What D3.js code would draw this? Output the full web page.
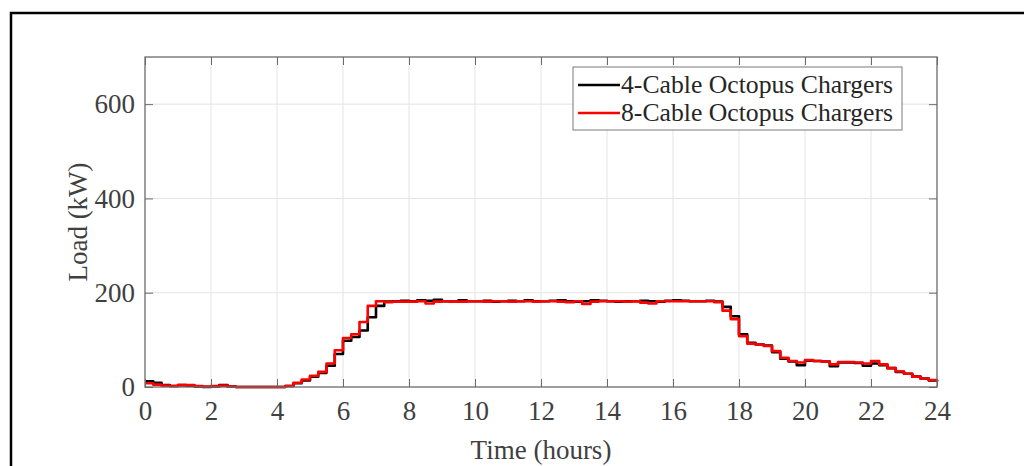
<!DOCTYPE html>
<html>
<head>
<meta charset="utf-8">
<script src="https://cdn.jsdelivr.net/npm/d3@7"></script>
<style>
  body { margin: 0; background: #fff; }
  svg { display: block; }
  .tick text { font-family: "Liberation Serif", "Times New Roman", serif; fill: #404040; }
</style>
</head>
<body>
<svg id="chart" width="1024" height="466"></svg>
<script>
// time axis (hours), sampled every quarter hour
const hours = d3.range(0, 24.001, 0.25);

// 4-cable octopus chargers, load in kW
const load4Cable = [
  12, 9, 4, 2, 4, 3, 1, 0, 1, 4, 1, 0,
  0, 0, 0, 0, 0, 2, 8, 14, 22, 30, 45, 70,
  98, 106, 120, 148, 172, 181, 182, 183, 182, 184, 183, 185,
  182, 181, 184, 182, 182, 183, 181, 182, 183, 182, 184, 182,
  182, 183, 184, 182, 181, 182, 184, 183, 182, 181, 182, 182,
  183, 182, 181, 183, 184, 183, 182, 182, 183, 181, 170, 150,
  112, 94, 90, 88, 74, 60, 54, 46, 56, 55, 54, 44,
  52, 52, 51, 45, 50, 46, 40, 32, 28, 22, 18, 14,
  12
];

// 8-cable octopus chargers, load in kW
const load8Cable = [
  8, 5, 3, 2, 4, 4, 2, 1, 2, 3, 1, 0,
  0, 0, 0, 0, 0, 2, 9, 16, 24, 32, 50, 78,
  104, 112, 138, 172, 182, 180, 181, 181, 181, 182, 177, 181,
  182, 181, 181, 182, 182, 181, 182, 182, 181, 182, 182, 181,
  182, 182, 181, 180, 182, 176, 181, 182, 182, 182, 181, 182,
  179, 177, 182, 182, 182, 182, 182, 182, 182, 180, 162, 144,
  108, 92, 90, 87, 76, 62, 55, 52, 57, 55, 54, 48,
  53, 53, 52, 50, 55, 48, 40, 33, 28, 22, 18, 15,
  12
];

const xTicks = d3.range(0, 25, 2);
const yTicks = [0, 200, 400, 600];
const seriesNames = ["4-Cable Octopus Chargers", "8-Cable Octopus Chargers"];
const seriesColors = ["#000000", "#ff0000"];

const plot = { left: 145, top: 57, right: 937, bottom: 387 };
const axisColor = "#6b6b6b";
const serif = "'Liberation Serif', 'Times New Roman', serif";

const svg = d3.select("#chart");

// outer figure frame (runs off the right/bottom edge)
svg.append("rect")
  .attr("x", 11).attr("y", 13)
  .attr("width", 1200).attr("height", 700)
  .attr("fill", "none").attr("stroke", "#000").attr("stroke-width", 2.5);

const x = d3.scaleLinear().domain([0, 24]).range([plot.left, plot.right]);
const y = d3.scaleLinear().domain([0, 700]).range([plot.bottom, plot.top]);

// grid
const grid = svg.append("g");
grid.selectAll(".gx").data(xTicks.slice(1, -1)).join("line")
  .attr("x1", (d) => x(d)).attr("x2", (d) => x(d))
  .attr("y1", plot.top).attr("y2", plot.bottom)
  .attr("stroke", "#e4e4e4").attr("stroke-width", 1);
grid.selectAll(".gy").data(yTicks.slice(1)).join("line")
  .attr("x1", plot.left).attr("x2", plot.right)
  .attr("y1", (d) => y(d)).attr("y2", (d) => y(d))
  .attr("stroke", "#e4e4e4").attr("stroke-width", 1);

// data lines
const line = (vals) => d3.line()
  .curve(d3.curveStepAfter)
  .x((d, i) => x(hours[i]))
  .y((d) => y(d))(vals);

[load4Cable, load8Cable].forEach((vals, i) => {
  svg.append("path")
    .attr("d", line(vals))
    .attr("fill", "none")
    .attr("stroke", seriesColors[i])
    .attr("stroke-width", 2.6)
    .attr("stroke-linejoin", "round");
});

// axes (ticks point inward, box on)
const styleAxis = (g, size) => {
  g.select(".domain").remove();
  g.selectAll(".tick line").attr("stroke", axisColor).attr("stroke-width", 1);
  g.selectAll(".tick text").attr("font-size", size);
};

svg.append("g")
  .attr("transform", `translate(0,${plot.bottom})`)
  .call(d3.axisBottom(x).tickValues(xTicks).tickSize(-8).tickPadding(14).tickFormat(d3.format("d")))
  .call((g) => styleAxis(g, 27));

svg.append("g")
  .attr("transform", `translate(0,${plot.top})`)
  .call(d3.axisTop(x).tickValues(xTicks).tickSize(-8).tickFormat(""))
  .call((g) => styleAxis(g, 27));

svg.append("g")
  .attr("transform", `translate(${plot.left},0)`)
  .call(d3.axisLeft(y).tickValues(yTicks).tickSize(-8).tickPadding(10).tickFormat(d3.format("d")))
  .call((g) => styleAxis(g, 27));

svg.append("g")
  .attr("transform", `translate(${plot.right},0)`)
  .call(d3.axisRight(y).tickValues(yTicks).tickSize(-8).tickFormat(""))
  .call((g) => styleAxis(g, 27));

svg.append("rect")
  .attr("x", plot.left).attr("y", plot.top)
  .attr("width", plot.right - plot.left).attr("height", plot.bottom - plot.top)
  .attr("fill", "none").attr("stroke", axisColor).attr("stroke-width", 1.3);

// axis titles
svg.append("text")
  .attr("x", (plot.left + plot.right) / 2).attr("y", 459)
  .attr("text-anchor", "middle")
  .attr("font-family", serif).attr("font-size", 27).attr("fill", "#404040")
  .text("Time (hours)");

svg.append("text")
  .attr("transform", `translate(87,${(plot.top + plot.bottom) / 2}) rotate(-90)`)
  .attr("text-anchor", "middle")
  .attr("font-family", serif).attr("font-size", 27).attr("fill", "#404040")
  .text("Load (kW)");

// legend
const legend = svg.append("g").attr("transform", "translate(573,67)");
legend.append("rect")
  .attr("width", 329).attr("height", 63)
  .attr("fill", "#fff").attr("stroke", "#7a7a7a").attr("stroke-width", 1);

seriesNames.forEach((name, i) => {
  const ly = 18 + i * 28;
  legend.append("line")
    .attr("x1", 5).attr("x2", 47).attr("y1", ly).attr("y2", ly)
    .attr("stroke", seriesColors[i]).attr("stroke-width", 2.6);
  legend.append("text")
    .attr("x", 48).attr("y", ly + 8)
    .attr("font-family", serif).attr("font-size", 25.7).attr("fill", "#262626")
    .text(name);
});
</script>
</body>
</html>
